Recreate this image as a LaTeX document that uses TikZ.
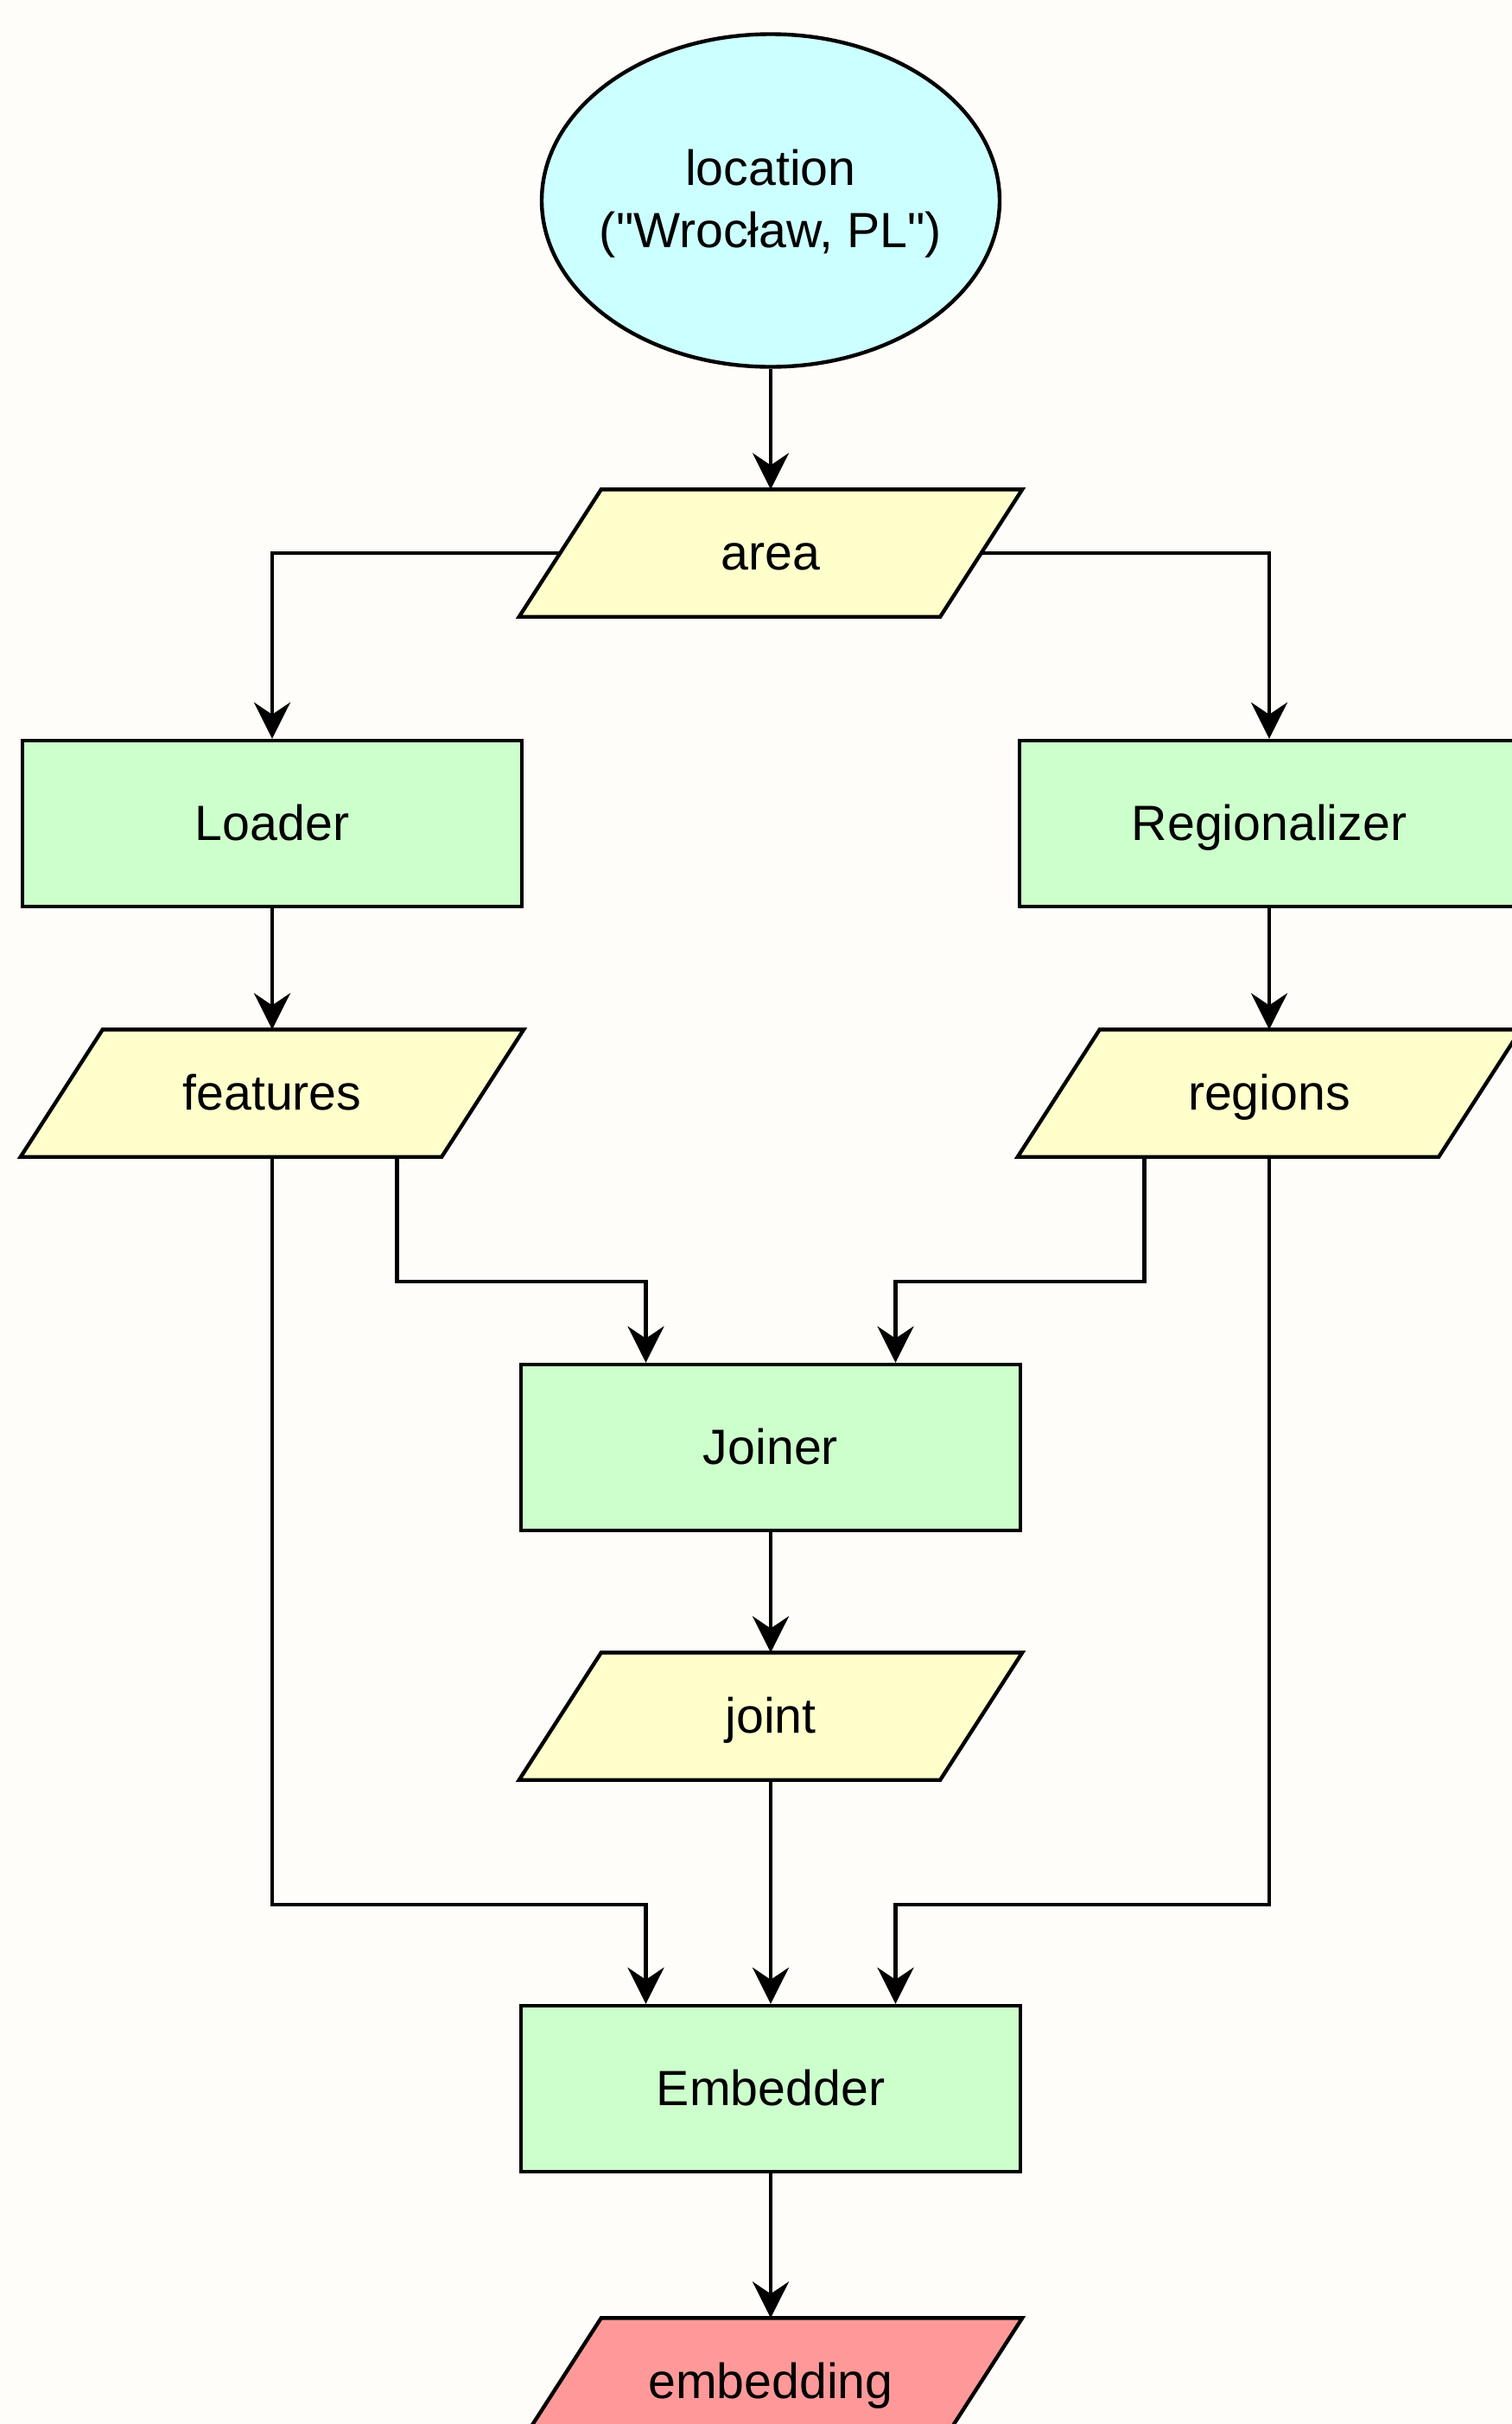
\documentclass[tikz,border=0pt]{standalone}
\usepackage{fontspec}
\setmainfont{Liberation Sans}[Ligatures=TeXOff]
\usetikzlibrary{shapes.geometric,arrows.meta,backgrounds}
\definecolor{bgcol}{RGB}{254,253,250}
\definecolor{loccol}{RGB}{204,255,255}
\definecolor{stepcol}{RGB}{204,255,204}
\definecolor{datacol}{RGB}{255,255,204}
\definecolor{outcol}{RGB}{255,153,153}

\begin{document}
\begin{tikzpicture}[line width=1.25pt, >={Stealth[length=4.2mm,width=4.2mm,inset=1.4mm]},
    every node/.style={font=\fontsize{16.3}{20.5}\selectfont},
    proc/.style={rectangle, draw, fill=stepcol, minimum width=5.78cm, minimum height=1.92cm, text height=12pt, text depth=1pt},
    data/.style={rectangle, minimum width=5.78cm, minimum height=1.43cm, text height=12pt, text depth=1pt}]
        \useasboundingbox (0,0) rectangle (17.5,-28.05);

        \node[ellipse, draw, fill=loccol, minimum width=5.30cm, minimum height=3.85cm, inner xsep=-0.2cm, inner ysep=0pt, text depth=1.5pt, align=center] (loc) at (8.92,-2.32) {location\\("Wrocław, PL")};
        \node[data] (area) at (8.92,-6.40) {area};
        \node[proc] (loader) at (3.15,-9.53) {Loader};
        \node[proc] (regio) at (14.69,-9.53) {Regionalizer};
        \node[data] (feat) at (3.15,-12.65) {features};
        \node[data] (regs) at (14.69,-12.65) {regions};
        \node[proc] (joiner) at (8.92,-16.75) {Joiner};
        \node[data] (joint) at (8.92,-19.86) {joint};
        \node[proc] (embedder) at (8.92,-24.17) {Embedder};
        \node[data] (emb) at (8.92,-27.56) {embedding};

        % parallelograms behind the data labels
        \begin{scope}[on background layer]
          \fill[bgcol] (0,0) rectangle (17.5,-28.05);
          \foreach \n/\c in {area/datacol, feat/datacol, regs/datacol, joint/datacol, emb/outcol}
            \filldraw[fill=\c, line width=1.25pt] ([xshift=0.95cm]\n.north west) -- (\n.north east)
              -- ([xshift=-0.95cm]\n.south east) -- (\n.south west) -- cycle;
        \end{scope}

        \draw[->] (loc) -- (area);
        \draw[->] ([xshift=0.475cm]area.west) -| (loader);
        \draw[->] ([xshift=-0.475cm]area.east) -| (regio);
        \draw[->] (loader) -- (feat);
        \draw[->] (regio) -- (regs);
        \draw[->] ([xshift=1.445cm]feat.south) -- ++(0,-1.44) -| ([xshift=-1.445cm]joiner.north);
        \draw[->] ([xshift=-1.445cm]regs.south) -- ++(0,-1.44) -| ([xshift=1.445cm]joiner.north);
        \draw[->] (joiner) -- (joint);
        \draw[->] (feat.south) -- ++(0,-8.65) -| ([xshift=-1.445cm]embedder.north);
        \draw[->] (regs.south) -- ++(0,-8.65) -| ([xshift=1.445cm]embedder.north);
        \draw[->] (joint) -- (embedder);
        \draw[->] (embedder) -- (emb);
      \end{tikzpicture}
\end{document}
